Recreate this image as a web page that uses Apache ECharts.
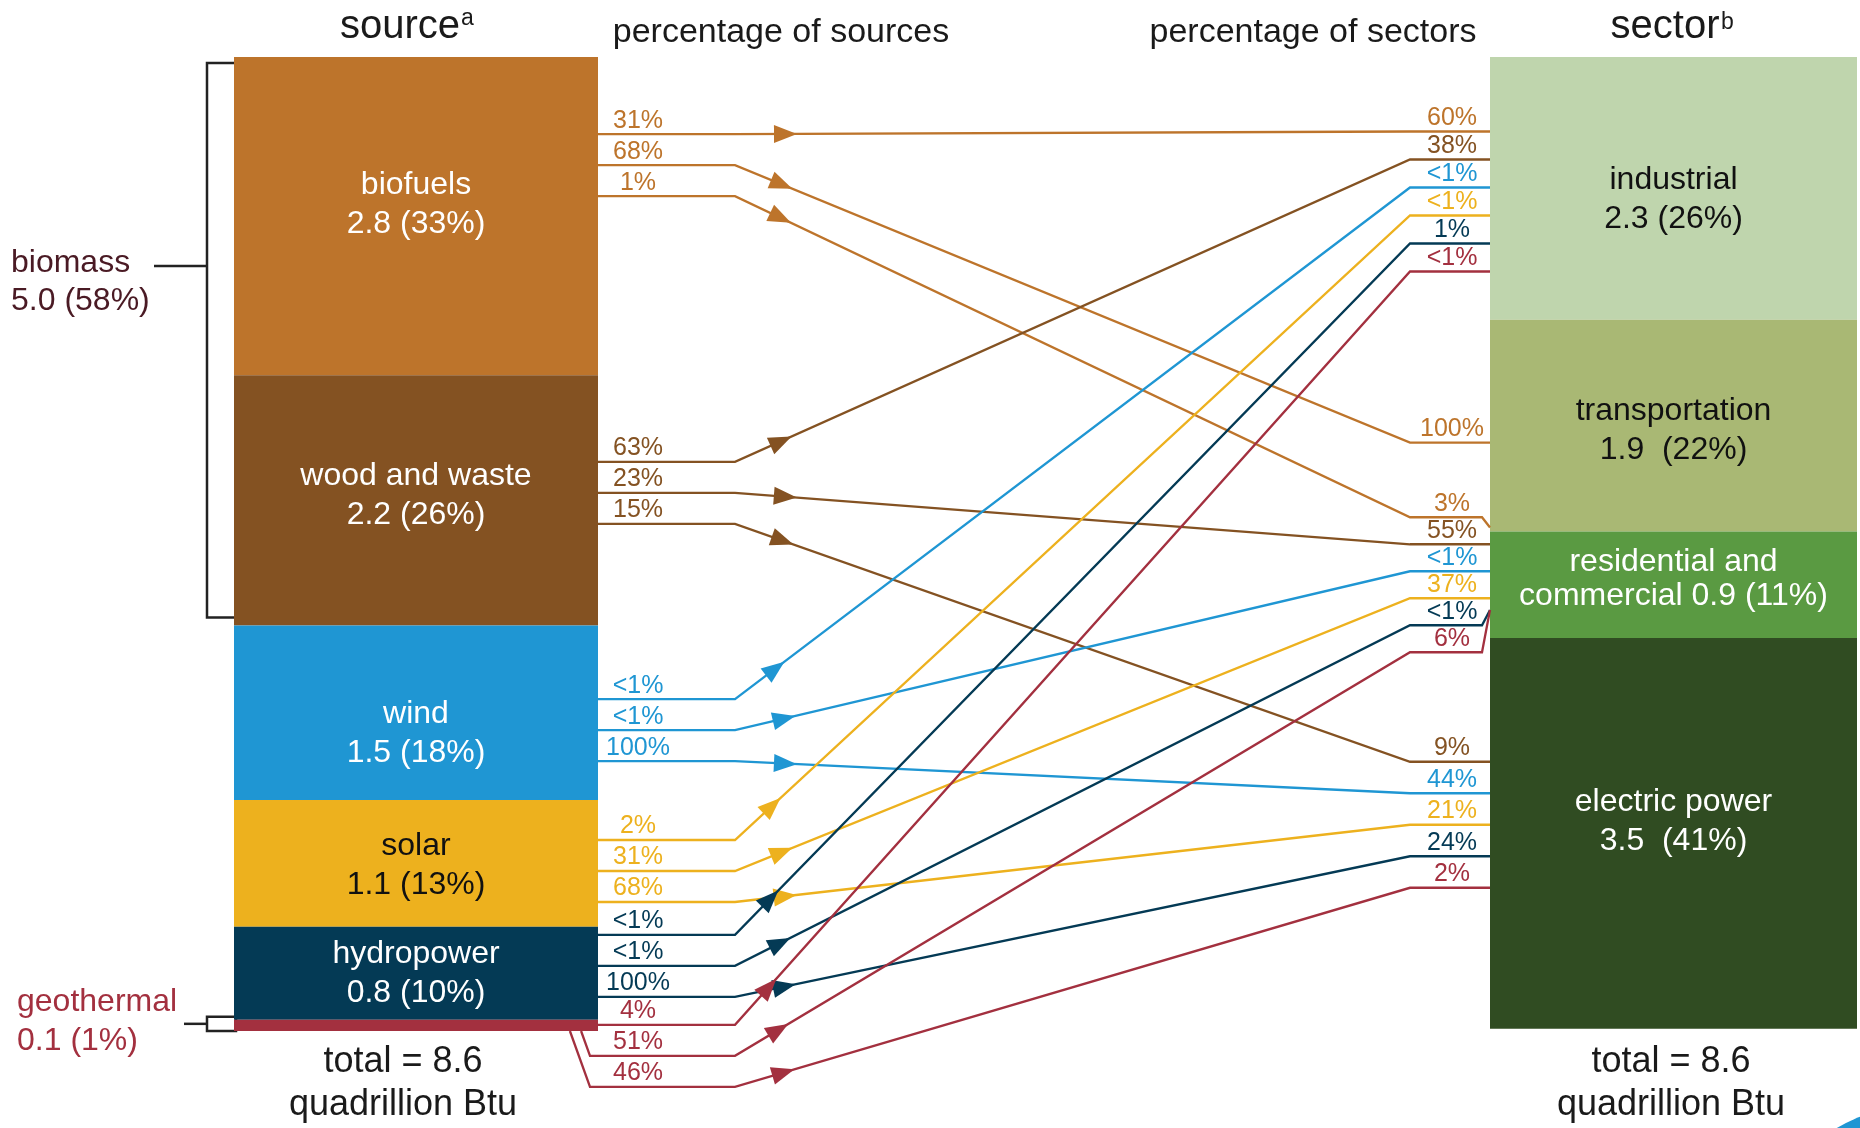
<!DOCTYPE html>
<html>
<head>
<meta charset="utf-8">
<title>Renewable energy: source and sector</title>
<script src="https://cdn.jsdelivr.net/npm/echarts@6/dist/echarts.min.js"></script>
<style>
    html, body { margin: 0; padding: 0; background: #fff; }
    #chart { width: 1860px; height: 1128px; }
</style>
</head>
<body>
<div id="chart"></div>
<script>
// ---- data (quadrillion Btu) ----
var sourceNames = ['biofuels', 'wood and waste', 'wind', 'solar', 'hydropower', 'geothermal'];
var sourceValues = [2.81, 2.21, 1.54, 1.12, 0.82, 0.1];
var sourceLabels = ['2.8 (33%)', '2.2 (26%)', '1.5 (18%)', '1.1 (13%)', '0.8 (10%)', '0.1 (1%)'];

var sectorNames = ['industrial', 'transportation', 'residential and commercial', 'electric power'];
var sectorValues = [2.32, 1.87, 0.94, 3.45];
var sectorLabels = ['2.3 (26%)', '1.9  (22%)', '0.9 (11%)', '3.5  (41%)'];

// flows: source index -> sector index, share of the source, share of the sector
var flowSource = [0, 0, 0, 1, 1, 1, 2, 2, 2, 3, 3, 3, 4, 4, 4, 5, 5, 5];
var flowSector = [0, 1, 2, 0, 2, 3, 0, 2, 3, 0, 2, 3, 0, 2, 3, 0, 2, 3];
var flowOfSource = ['31%', '68%', '1%', '63%', '23%', '15%', '<1%', '<1%', '100%',
    '2%', '31%', '68%', '<1%', '<1%', '100%', '4%', '51%', '46%'];
var flowOfSector = ['60%', '100%', '3%', '38%', '55%', '9%', '<1%', '<1%', '44%',
    '<1%', '37%', '21%', '1%', '<1%', '24%', '<1%', '6%', '2%'];

var biomassLabel = ['biomass', '5.0 (58%)'];
var totalLabel = ['total = 8.6', 'quadrillion Btu'];

// ---- styles / layout ----
var sourceColors = ['#bd742b', '#845222', '#1f96d3', '#edb11e', '#043a55', '#a3303f'];
var sourceTextColors = ['#fff', '#fff', '#fff', '#111', '#fff', '#fff'];
var sectorColors = ['#bfd5ad', '#a9b874', '#5a9a42', '#304c22'];
var sectorTextColors = ['#111', '#111', '#fff', '#fff'];
// label nudges inside the columns (px) and line heights
var sourceTextShift = [-11, -5, 21, 2, 0, 0], sourceLineH = [39, 39, 39, 39, 39, 39];
var sectorTextShift = [11, 5, -6, -12], sectorLineH = [39, 39, 34, 39];

var FONT = '"Liberation Sans", Arial, Helvetica, sans-serif';
var srcX = [234, 598], secX = [1490, 1857];
var bendL = 735, bendR = 1410, underX = 590;
var labelLX = 638, labelRX = 1452;
var srcAnchor = [0.34, 0.47, 0.6, 0.56, 0.42, 0.5], gapL = 31, minGapL = 28;
var secAnchor = [0.55, 0.58, 0.5, 0.478], secGap = [28, 28, 27, 31.5];

var chart = echarts.init(document.getElementById('chart'), null, { renderer: 'canvas' });

function cumulative(vals) {
    var out = [0];
    vals.forEach(function (v, i) { out.push(out[i] + v); });
    return out;
}
var srcStack = cumulative(sourceValues);
var secStack = cumulative(sectorValues);

// where each flow line meets its source and its sector (pixels)
function slotLayout(toY) {
    var srcEdges = srcStack.map(toY);
    var secEdges = secStack.map(toY);
    var left = [], right = [], prevEnd = -Infinity;
    sourceNames.forEach(function (n, s) {
        var ks = [];
        flowSource.forEach(function (fs, k) { if (fs === s) ks.push(k); });
        var c = srcEdges[s] + srcAnchor[s] * (srcEdges[s + 1] - srcEdges[s]);
        var start = Math.max(c - (ks.length - 1) / 2 * gapL, prevEnd + minGapL);
        ks.forEach(function (k, j) { left[k] = start + j * gapL; });
        prevEnd = start + (ks.length - 1) * gapL;
    });
    sectorNames.forEach(function (n, t) {
        var ks = [];
        flowSector.forEach(function (ft, k) { if (ft === t) ks.push(k); });
        var c = secEdges[t] + secAnchor[t] * (secEdges[t + 1] - secEdges[t]);
        ks.forEach(function (k, j) { right[k] = c + (j - (ks.length - 1) / 2) * secGap[t]; });
    });
    return { left: left, right: right, srcEdges: srcEdges, secEdges: secEdges };
}

// stacked column drawn from [index, start, end] in Btu
function columnRenderer(xr, colors, textColors, texts, shifts, lineHs) {
    return function (params, api) {
        var i = api.value(0);
        var p0 = api.coord([xr[0], api.value(1)]);
        var p1 = api.coord([xr[1], api.value(2)]);
        var children = [{
            type: 'rect',
            shape: { x: p0[0], y: p0[1], width: p1[0] - p0[0], height: p1[1] - p0[1] },
            style: { fill: colors[i] }
        }];
        if (texts[i]) {
            children.push({
                type: 'text',
                style: {
                    text: texts[i], x: (p0[0] + p1[0]) / 2, y: (p0[1] + p1[1]) / 2 + shifts[i],
                    align: 'center', textAlign: 'center', verticalAlign: 'middle', textVerticalAlign: 'middle',
                    fill: textColors[i], font: '32px ' + FONT, lineHeight: lineHs[i]
                }
            });
        }
        return { type: 'group', children: children };
    };
}

function renderFlow(params, api) {
    var k = api.value(0);
    var px = function (x) { return api.coord([x, 0])[0]; };
    var L = slotLayout(function (v) { return api.coord([0, v])[1]; });
    var s = flowSource[k], t = flowSector[k];
    var yL = L.left[k], yR = L.right[k];
    var srcBottom = L.srcEdges[s + 1];
    var tgtTop = L.secEdges[t], tgtBottom = L.secEdges[t + 1];
    var color = sourceColors[s];

    var pts = [];
    if (yL > srcBottom - 2) {
        pts.push([px(underX) - 0.36 * (yL - srcBottom), srcBottom]);
        pts.push([px(underX), yL]);
    } else {
        pts.push([px(srcX[1]), yL]);
    }
    pts.push([px(bendL), yL]);
    pts.push([px(bendR), yR]);
    var yEnd = Math.min(Math.max(yR, tgtTop - 4), tgtBottom - 28);
    if (Math.abs(yEnd - yR) > 0.5) pts.push([px(secX[0]) - 8, yR]);
    pts.push([px(secX[0]), yEnd]);

    // arrow head on the slanted part
    var dx = px(bendR) - px(bendL), dy = yR - yL;
    var len = Math.sqrt(dx * dx + dy * dy);
    var ux = dx / len, uy = dy / len;
    var tip = [px(bendL) + ux * 62, yL + uy * 62];
    var base = [tip[0] - ux * 23, tip[1] - uy * 23];
    var arrow = [tip, [base[0] - uy * 9, base[1] + ux * 9], [base[0] + uy * 9, base[1] - ux * 9]];

    return {
        type: 'group',
        children: [
            { type: 'polyline', shape: { points: pts }, style: { stroke: color, lineWidth: 2.3, fill: null } },
            { type: 'polygon', shape: { points: arrow }, style: { fill: color } },
            {
                type: 'text',
                style: { text: flowOfSource[k], x: px(labelLX), y: yL - 1, align: 'center', textAlign: 'center',
                    verticalAlign: 'bottom', textVerticalAlign: 'bottom', fill: color, font: '25px ' + FONT }
            },
            {
                type: 'text',
                style: { text: flowOfSector[k], x: px(labelRX), y: yR - 1, align: 'center', textAlign: 'center',
                    verticalAlign: 'bottom', textVerticalAlign: 'bottom', fill: color, font: '25px ' + FONT }
            }
        ]
    };
}

var sourceTexts = sourceNames.map(function (n, i) {
    return i < 5 ? n + '\n' + sourceLabels[i] : '';
});
var sectorTexts = sectorNames.map(function (n, i) {
    return n.indexOf(' and ') > 0
        ? n.replace(' and ', ' and\n') + ' ' + sectorLabels[i]
        : n + '\n' + sectorLabels[i];
});

chart.setOption({
    animation: false,
    backgroundColor: '#fff',
    grid: { left: 0, right: 0, top: 57, bottom: 97 },
    xAxis: { type: 'value', min: 0, max: 1860, show: false },
    yAxis: { type: 'value', inverse: true, min: 0, max: 8.6, show: false },
    series: [
        {
            type: 'custom', name: 'source', clip: false, silent: true, z: 2,
            data: sourceValues.map(function (v, i) { return [i, srcStack[i], srcStack[i + 1]]; }),
            renderItem: columnRenderer(srcX, sourceColors, sourceTextColors, sourceTexts, sourceTextShift, sourceLineH)
        },
        {
            type: 'custom', name: 'sector', clip: false, silent: true, z: 2,
            data: sectorValues.map(function (v, i) { return [i, secStack[i], secStack[i + 1]]; }),
            renderItem: columnRenderer(secX, sectorColors, sectorTextColors, sectorTexts, sectorTextShift, sectorLineH)
        },
        {
            type: 'custom', name: 'flows', clip: false, silent: true, z: 5,
            data: flowSource.map(function (s, k) { return [k, 0]; }),
            renderItem: renderFlow
        }
    ]
});

// brackets and titles placed from the bar extents
var toY = function (v) { return chart.convertToPixel({ yAxisIndex: 0 }, v); };
var edges = srcStack.map(toY);
var bioTop = edges[0] + 6, bioBottom = edges[2] - 8;
var geoTop = edges[5] - 3, geoBottom = edges[6];
var geoMid = (geoTop + geoBottom) / 2;

function txt(text, x, y, size, color, align) {
    return {
        type: 'text', x: x, y: y, silent: true,
        style: { text: text, font: size + 'px ' + FONT, fill: color, align: align || 'center',
            textAlign: align || 'center', verticalAlign: 'middle', textVerticalAlign: 'middle' }
    };
}
var ink = '#1a1a1a';
var srcCenter = 403, secCenter = 1671;

chart.setOption({
    graphic: [
        txt('source', 400, 27, 40, ink), txt('a', 461, 19, 23, ink, 'left'),
        txt('sector', 1665, 27, 40, ink), txt('b', 1721, 23, 23, ink, 'left'),
        txt('percentage of sources', 781, 33, 34, ink),
        txt('percentage of sectors', 1313, 33, 34, ink),
        txt(totalLabel[0], srcCenter, 1062, 36, ink), txt(totalLabel[1], srcCenter, 1105, 36, ink),
        txt(totalLabel[0], secCenter, 1062, 36, ink), txt(totalLabel[1], secCenter, 1105, 36, ink),
        txt(biomassLabel[0], 11, 263, 32, '#4a1a24', 'left'),
        txt(biomassLabel[1], 11, 301, 32, '#4a1a24', 'left'),
        txt(sourceNames[5], 17, 1002, 32, '#a3303f', 'left'),
        txt(sourceLabels[5], 17, 1041, 32, '#a3303f', 'left'),
        {
            type: 'polyline', silent: true,
            shape: { points: [[srcX[0], bioTop], [207, bioTop], [207, bioBottom], [srcX[0], bioBottom]] },
            style: { stroke: '#222', lineWidth: 2.5, fill: null }
        },
        { type: 'line', silent: true, shape: { x1: 154, y1: 266, x2: 207, y2: 266 }, style: { stroke: '#222', lineWidth: 2.5 } },
        {
            type: 'rect', silent: true, z: -1,
            shape: { x: 207, y: geoTop, width: srcX[0] - 207 + 2, height: geoBottom - geoTop },
            style: { stroke: '#222', lineWidth: 2.5, fill: '#fff' }
        },
        { type: 'line', silent: true, shape: { x1: 184, y1: geoMid, x2: 207, y2: geoMid }, style: { stroke: '#222', lineWidth: 2.5 } },
        { type: 'circle', silent: true, shape: { cx: 1900, cy: 1230, r: 120 }, style: { fill: '#1f96d3' } }
    ]
});

window.onresize = function () {
    chart.resize();
};
</script>
</body>
</html>
